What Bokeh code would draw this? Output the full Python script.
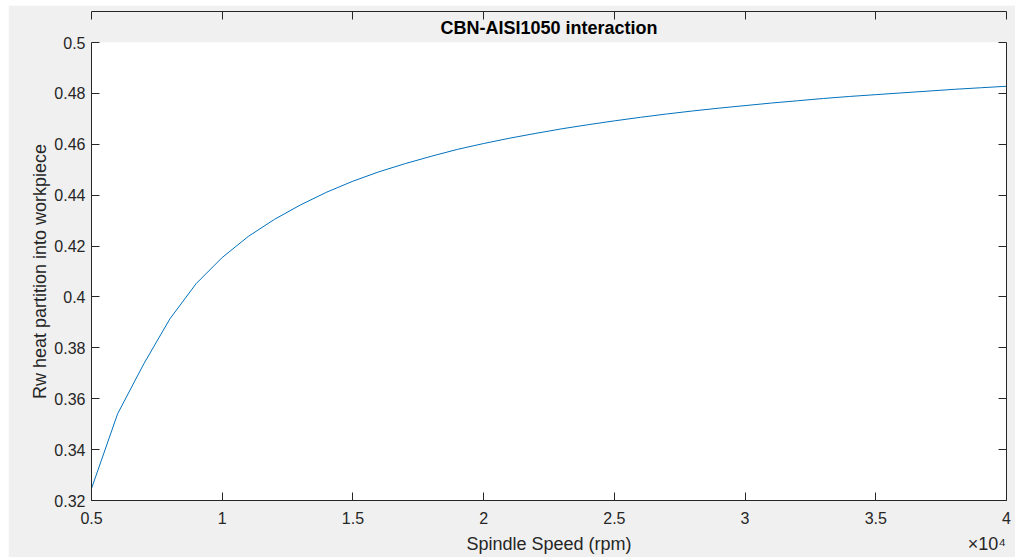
from bokeh.plotting import figure
from bokeh.models import LinearAxis, FixedTicker, Range1d, Title
from bokeh.embed import file_html
from bokeh.resources import INLINE

# Spindle speed (rpm) and the heat partition Rw going into the workpiece
speed_rpm = [5000, 6000, 7000, 8000, 9000, 10000, 11000, 12000, 13000, 14000,
             15000, 16000, 17000, 18000, 19000, 20000, 21000, 22000, 23000, 24000,
             25000, 26000, 27000, 28000, 29000, 30000, 31000, 32000, 33000, 34000,
             35000, 36000, 37000, 38000, 39000, 40000]
rw_partition = [0.3247, 0.3541, 0.3737, 0.3914, 0.4052, 0.4155, 0.4238, 0.4305, 0.4362, 0.4412,
                0.4455, 0.4492, 0.4524, 0.4553, 0.4580, 0.4603, 0.4624, 0.4643, 0.4661, 0.4677,
                0.4692, 0.4706, 0.4719, 0.4731, 0.4742, 0.4752, 0.4762, 0.4771, 0.4780, 0.4788,
                0.4795, 0.4802, 0.4809, 0.4816, 0.4822, 0.4828]

x_ticks = [5000, 10000, 15000, 20000, 25000, 30000, 35000, 40000]
x_tick_labels = ["0.5", "1", "1.5", "2", "2.5", "3", "3.5", "4"]
y_ticks = [0.32, 0.34, 0.36, 0.38, 0.40, 0.42, 0.44, 0.46, 0.48, 0.50]
y_tick_labels = ["0.32", "0.34", "0.36", "0.38", "0.4", "0.42", "0.44", "0.46", "0.48", "0.5"]

# x-axis caption row: axis title centred, exponent marker at the right end
x_caption_pos = [22500, 39250]
x_caption_text = ["Spindle Speed (rpm)", "\u00d710\u2074"]

FONT = "Liberation Sans"
AX = "#262626"
BG = "#F0F0F0"

p = figure(width=1007, height=552,
           x_range=Range1d(5000, 40000), y_range=Range1d(0.32, 0.5),
           x_axis_location=None, y_axis_location=None,
           output_backend="svg", toolbar_location=None,
           min_border_left=83, min_border_right=9, min_border_top=37, min_border_bottom=57,
           background_fill_color="white", border_fill_color=BG,
           outline_line_color=None, margin=(5, 0, 0, 8))
p.grid.visible = False

p.add_layout(Title(text="CBN-AISI1050 interaction", align="center",
                   text_font=FONT, text_font_size="18px", text_font_style="bold",
                   text_color="black", standoff=9), "above")


def style_axis(ax, ticks, labels, show_labels):
    ax.ticker = FixedTicker(ticks=ticks)
    ax.major_label_overrides = {t: (l if show_labels else "") for t, l in zip(ticks, labels)}
    ax.axis_line_color = AX
    ax.axis_line_width = 1
    ax.major_tick_line_color = AX
    ax.major_tick_in = 8
    ax.major_tick_out = 0
    ax.minor_tick_line_color = None
    ax.major_label_text_font = FONT
    ax.major_label_text_font_size = "16px"
    ax.major_label_text_color = AX
    ax.axis_label_text_font = FONT
    ax.axis_label_text_font_size = "18px"
    ax.axis_label_text_font_style = "normal"
    ax.axis_label_text_color = AX
    if not show_labels:
        ax.major_label_standoff = 0
        ax.major_label_text_font_size = "0px"


xb = LinearAxis()
style_axis(xb, x_ticks, x_tick_labels, True)
xb.major_label_standoff = 11
p.add_layout(xb, "below")

# caption row under the tick labels
xc = LinearAxis(ticker=FixedTicker(ticks=x_caption_pos),
                major_label_overrides=dict(zip(x_caption_pos, x_caption_text)),
                axis_line_color=None, major_tick_line_color=None, minor_tick_line_color=None,
                major_tick_in=0, major_tick_out=0, major_label_standoff=7,
                major_label_text_font=FONT, major_label_text_font_size="18px",
                major_label_text_color=AX)
p.add_layout(xc, "below")

yl = LinearAxis(axis_label="Rw heat partition into workpiece")
style_axis(yl, y_ticks, y_tick_labels, True)
yl.major_label_standoff = 6
yl.axis_label_standoff = 1
p.add_layout(yl, "left")

xt = LinearAxis()
style_axis(xt, x_ticks, x_tick_labels, False)
p.add_layout(xt, "above")

yr = LinearAxis()
style_axis(yr, y_ticks, y_tick_labels, False)
p.add_layout(yr, "right")

p.line(speed_rpm, rw_partition, line_color="#0072BD", line_width=1)

open("out.html", "w").write(file_html(p, INLINE))
